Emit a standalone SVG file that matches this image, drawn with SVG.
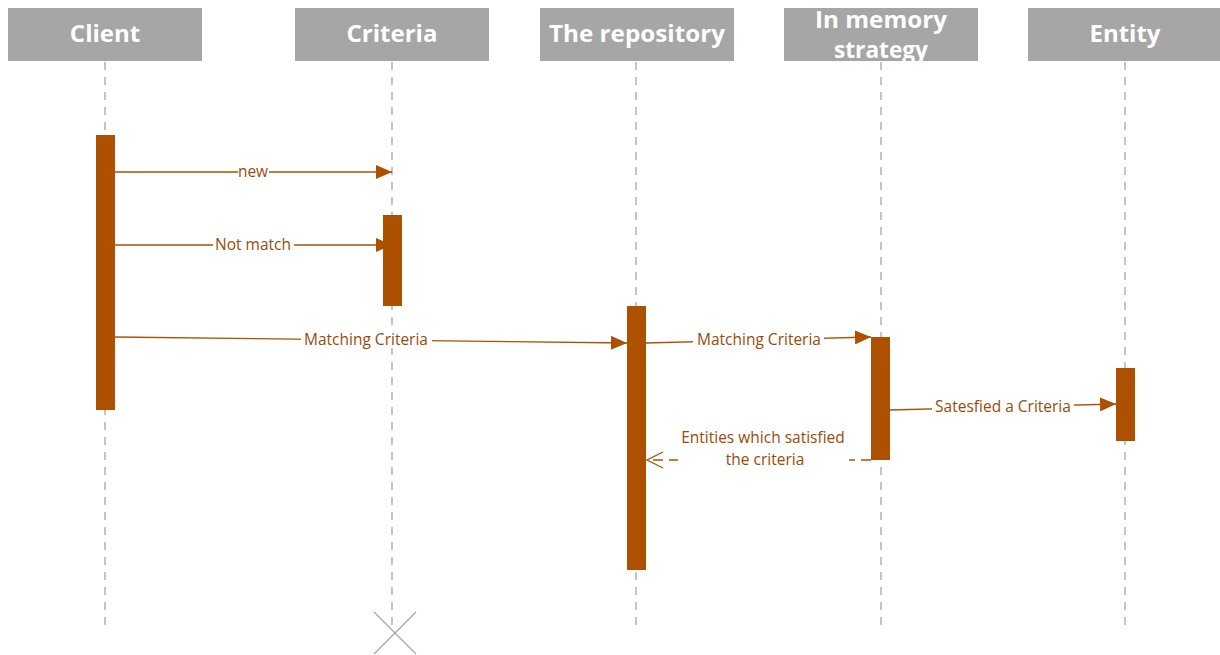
<svg xmlns="http://www.w3.org/2000/svg" width="1220" height="655" viewBox="0 0 1220 655">
  <defs>
    <style>
      .head { fill: #a6a6a6; }
      .headtext { fill: #ffffff; font-family: "Open Sans", "Noto Sans", sans-serif; font-weight: bold; font-size: 24px; text-anchor: middle; }
      .life { stroke: #a6a6a6; stroke-width: 1.3; stroke-dasharray: 8 7; fill: none; }
      .act { fill: #ad5100; }
      .msg { stroke: #ad5100; stroke-width: 1.3; fill: none; }
      .ret { stroke: #ad5100; stroke-width: 1.3; fill: none; stroke-dasharray: 10 6; }
      .lbl { fill: #9c4a0a; font-family: "Open Sans", "Noto Sans", sans-serif; font-size: 15.5px; text-anchor: middle; }
      .lblbg { fill: #ffffff; }
      .kill { stroke: #a6a6a6; stroke-width: 1.3; }
    </style>
    <marker id="solid" viewBox="0 0 16 14" refX="16" refY="7" markerWidth="16" markerHeight="14" markerUnits="userSpaceOnUse" orient="auto">
      <path d="M0,0 L16,7 L0,14 Z" fill="#ad5100"/>
    </marker>
    <marker id="open" viewBox="0 0 18 18" refX="17" refY="9" markerWidth="18" markerHeight="18" markerUnits="userSpaceOnUse" orient="auto">
      <path d="M1,1 L17,9 L1,17" fill="none" stroke="#ad5100" stroke-width="1.3"/>
    </marker>
  </defs>

  <!-- Participants -->
  <g id="client">
    <rect class="head" x="8" y="8" width="194" height="53"/>
    <text class="headtext" x="105" y="42">Client</text>
    <line class="life" x1="105" y1="62" x2="105" y2="628"/>
    <rect class="act" x="96" y="135" width="19" height="275"/>
  </g>
  <g id="criteria">
    <rect class="head" x="295" y="8" width="194" height="53"/>
    <text class="headtext" x="392" y="42">Criteria</text>
    <line class="life" x1="392" y1="62" x2="392" y2="632"/>
    <rect class="act" x="383" y="215" width="19" height="91"/>
    <line class="kill" x1="374" y1="612" x2="416" y2="654"/>
    <line class="kill" x1="416" y1="612" x2="374" y2="654"/>
  </g>
  <g id="repository">
    <rect class="head" x="540" y="8" width="194" height="53"/>
    <text class="headtext" x="637" y="42" textLength="176" lengthAdjust="spacingAndGlyphs">The repository</text>
    <line class="life" x1="636" y1="62" x2="636" y2="628"/>
    <rect class="act" x="627" y="306" width="19" height="264"/>
  </g>
  <g id="strategy">
    <rect class="head" x="784" y="8" width="194" height="53"/>
    <text class="headtext" x="881" y="28" textLength="132" lengthAdjust="spacingAndGlyphs">In memory</text>
    <text class="headtext" x="881" y="58" textLength="94" lengthAdjust="spacingAndGlyphs">strategy</text>
    <line class="life" x1="881" y1="62" x2="881" y2="628"/>
    <rect class="act" x="871" y="337" width="19" height="123"/>
  </g>
  <g id="entity">
    <rect class="head" x="1028" y="8" width="194" height="53"/>
    <text class="headtext" x="1125" y="42">Entity</text>
    <line class="life" x1="1125" y1="62" x2="1125" y2="628"/>
    <rect class="act" x="1116" y="368" width="19" height="73"/>
  </g>

  <!-- Messages -->
  <g id="connectors">
    <line class="msg" x1="115" y1="172" x2="392" y2="172" marker-end="url(#solid)"/>
    <rect class="lblbg" x="238" y="162" width="31" height="18"/>
    <text class="lbl" x="253" y="177">new</text>

    <line class="msg" x1="115" y1="245" x2="392" y2="245" marker-end="url(#solid)"/>
    <rect class="lblbg" x="213" y="235" width="81" height="18"/>
    <text class="lbl" x="253" y="250">Not match</text>

    <line class="msg" x1="115" y1="337" x2="627" y2="343" marker-end="url(#solid)"/>
    <rect class="lblbg" x="301" y="330" width="131" height="18"/>
    <text class="lbl" x="366" y="345">Matching Criteria</text>

    <line class="msg" x1="646" y1="343" x2="871" y2="337" marker-end="url(#solid)"/>
    <rect class="lblbg" x="693" y="330" width="131" height="18"/>
    <text class="lbl" x="759" y="345">Matching Criteria</text>

    <line class="msg" x1="890" y1="410" x2="1116" y2="404" marker-end="url(#solid)"/>
    <rect class="lblbg" x="932" y="398" width="142" height="18"/>
    <text class="lbl" x="1003" y="412">Satesfied a Criteria</text>

    <line class="ret" x1="871" y1="460" x2="647" y2="460" marker-end="url(#open)"/>
    <rect class="lblbg" x="678" y="428" width="171" height="42"/>
    <text class="lbl" x="763" y="443">Entities which satisfied</text>
    <text class="lbl" x="765" y="465">the criteria</text>
  </g>
</svg>
